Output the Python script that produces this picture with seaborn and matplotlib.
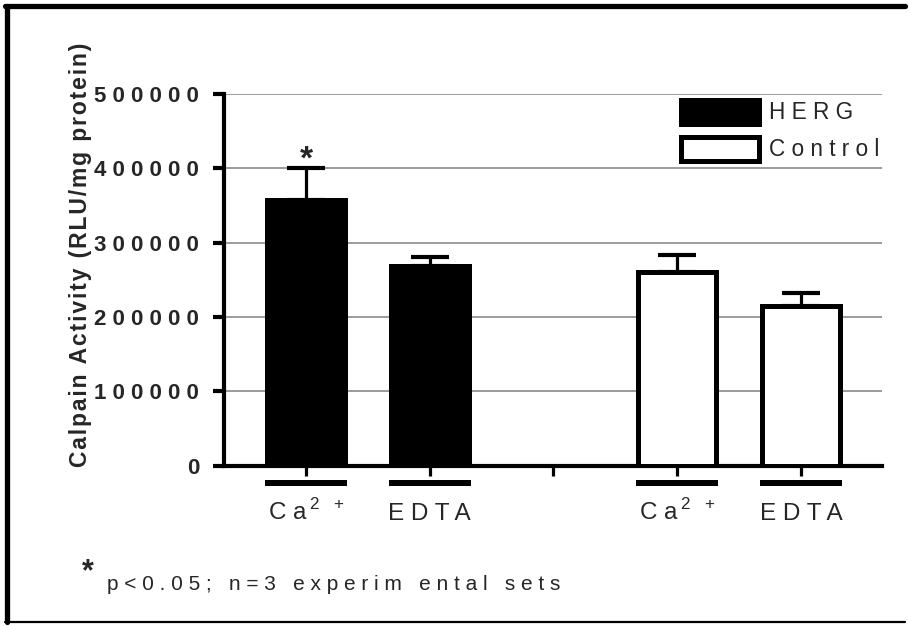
import matplotlib
matplotlib.use("Agg")
import matplotlib.pyplot as plt
import matplotlib.transforms as mtransforms
from matplotlib.lines import Line2D
from matplotlib.patches import Patch
import numpy as np
import pandas as pd
import seaborn as sns

# ---- data -------------------------------------------------------------
slot_order = ["HERG Ca2+", "HERG EDTA", "", "Control Ca2+", "Control EDTA"]
bar_slots = ["HERG Ca2+", "HERG EDTA", "Control Ca2+", "Control EDTA"]
bar_groups = ["HERG", "HERG", "Control", "Control"]
activity = [358000, 269000, 261000, 215000]        # RLU / mg protein
sem = [43000, 11000, 22000, 17500]                 # upper error
group_order = ["HERG", "Control"]
group_colors = {"HERG": "black", "Control": "white"}
cat_labels = [r"C a$\,^{\mathregular{2\ \ +}}$", "EDTA",
              r"C a$\,^{\mathregular{2\ \ +}}$", "EDTA"]
y_ticks = [0, 100000, 200000, 300000, 400000, 500000]
significant = [True, False, False, False]
footnote = "p<0.05; n=3 experim ental sets"
y_title = "Calpain Activity (RLU/mg protein)"

df = pd.DataFrame({"slot": bar_slots, "group": bar_groups,
                   "activity": activity, "sem": sem})


def track(s, gap=" "):
    """Widen letter spacing by putting a gap between characters."""
    return gap.join(s)


sns.set_style("white")
plt.rcParams["font.family"] = ["Liberation Sans", "DejaVu Sans"]

W, H = 909, 626
fig = plt.figure(figsize=(W / 100, H / 100), dpi=100)
ax = fig.add_axes([224 / W, 1 - 465.5 / H, 658 / W, 371.5 / H])

bar_w = 0.63
sns.barplot(data=df, x="slot", y="activity", hue="group", order=slot_order,
            hue_order=group_order, palette=group_colors, dodge=False,
            width=bar_w, edgecolor="black", linewidth=3.6, saturation=1,
            errorbar=None, legend=False, ax=ax, zorder=3)

pos = np.array([slot_order.index(s) for s in df["slot"]])
ax.errorbar(pos, df["activity"], yerr=[np.zeros(len(df)), df["sem"]],
            fmt="none", ecolor="black", elinewidth=2.3, capsize=14,
            capthick=3, zorder=4)

# significance star above the error bar
for p, v, e, s in zip(pos, df["activity"], df["sem"], significant):
    if s:
        ax.annotate("*", xy=(p, v + e), xytext=(0, -6), textcoords="offset points",
                    ha="center", va="bottom", fontsize=24, fontweight="bold")

# axes styling
ax.set_xlim(-0.663, 4.655)
ax.set_ylim(0, 500000)
ax.set_yticks(y_ticks)
ax.set_yticklabels([track(str(v)) for v in y_ticks], fontweight="bold",
                   fontsize=16)
ax.set_xticks(range(len(slot_order)))
ax.set_xticklabels([""] * len(slot_order))
ax.set_xlabel("")
ax.tick_params(axis="y", direction="out", length=8, width=3, pad=10,
               left=True, color="black")
ax.tick_params(axis="x", direction="out", length=7, width=2.3, bottom=True,
               color="black")
for side in ("top", "right"):
    ax.spines[side].set_visible(False)
for side in ("left", "bottom"):
    ax.spines[side].set_linewidth(3)
    ax.spines[side].set_color("black")
ax.yaxis.grid(True, color="#808080", linewidth=1.1)
ax.xaxis.grid(False)
ax.set_axisbelow(True)

ax.set_ylabel(track(y_title, "\u200a"), fontweight="bold", fontsize=16.5)
ax.yaxis.set_label_coords(-0.2, 0.567)

# group underlines and category names under each bar
blend = mtransforms.blended_transform_factory(ax.transData, ax.transAxes)
for p, lab in zip(pos, cat_labels):
    ax.plot([p - 0.33, p + 0.33], [-0.047, -0.047], transform=blend,
            color="black", lw=4.3, solid_capstyle="butt", clip_on=False)
    txt = lab if "$" in lab else track(lab)
    ax.text(p, -0.147, txt, transform=blend, ha="center", va="baseline",
            fontsize=17.5)

# legend
handles = [Patch(facecolor=group_colors[g], edgecolor="black", linewidth=3.6)
           for g in group_order]
ax.legend(handles, [track(g) for g in group_order], loc="upper left",
          bbox_to_anchor=(0.695, 0.985), frameon=False, fontsize=16.3,
          handlelength=3.42, handleheight=1.25, handletextpad=0.45,
          labelspacing=0.55, borderpad=0, borderaxespad=0)

# footnote
fig.text(88 / W, 1 - 572 / H, "*", ha="center", va="center", fontsize=22,
         fontweight="bold")
fig.text(107 / W, 1 - 584 / H, track(footnote), ha="left", va="center",
         fontsize=15)

# outer frame
fig.add_artist(Line2D([7.5 / W, 7.5 / W], [1 - 6 / H, 1 - 622 / H],
                      transform=fig.transFigure, color="black", lw=3.8))
fig.add_artist(Line2D([5 / W, 905 / W], [1 - 6 / H, 1 - 6 / H],
                      transform=fig.transFigure, color="black", lw=3.8))
fig.add_artist(Line2D([5 / W, 905 / W], [1 - 622 / H, 1 - 622 / H],
                      transform=fig.transFigure, color="black", lw=1.6))

fig.savefig("out.png", dpi=100)
